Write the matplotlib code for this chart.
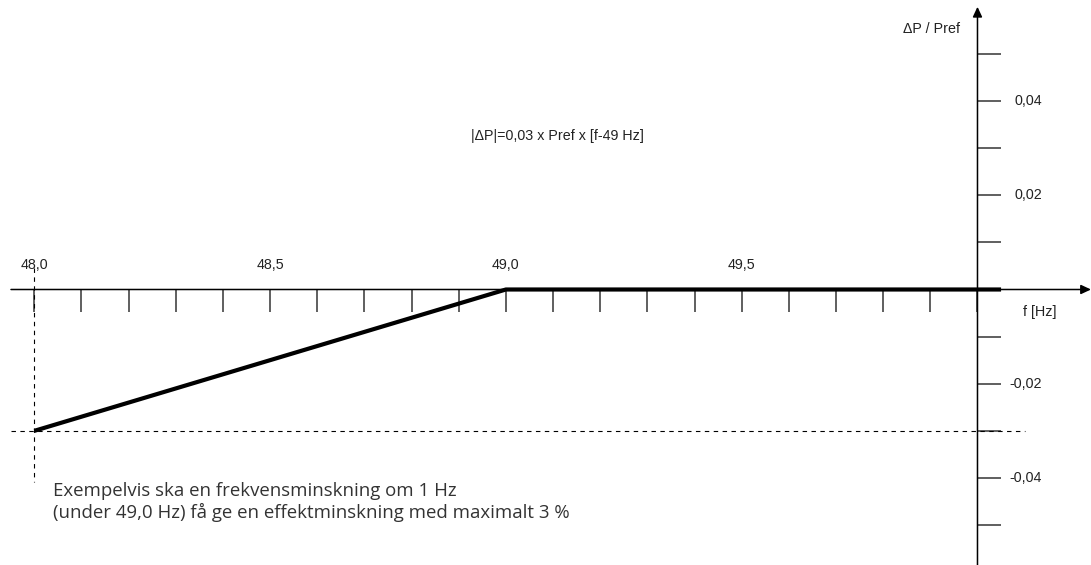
import numpy as np
import matplotlib.pyplot as plt

# frequency response curve: power change vs. grid frequency
freq = [48.0, 49.0, 50.05]
dp = [-0.03, 0.0, 0.0]

xtick_pos = [48.0, 48.1, 48.2, 48.3, 48.4, 48.5, 48.6, 48.7, 48.8, 48.9,
             49.0, 49.1, 49.2, 49.3, 49.4, 49.5, 49.6, 49.7, 49.8, 49.9, 50.0]
xlabel_pos = [48.0, 48.5, 49.0, 49.5]
xlabel_txt = ['48,0', '48,5', '49,0', '49,5']

ytick_pos = [0.05, 0.04, 0.03, 0.02, 0.01, -0.01, -0.02, -0.03, -0.04, -0.05]
ylabel_pos = [0.04, 0.02, -0.02, -0.04]
ylabel_txt = ['0,04', '0,02', '-0,02', '-0,04']

f_limit = 48.0
dp_limit = -0.03

fig = plt.figure(figsize=(10.91, 5.65), dpi=100)
ax = fig.add_axes([0, 0, 1, 1])
ax.set_xlim(47.9273, 50.2407)
ax.set_ylim(-0.05847, 0.06144)
ax.axis('off')

label_font = ['Liberation Sans', 'DejaVu Sans']
note_font = ['Open Sans', 'DejaVu Sans']
tick_col = '#444444'
fs = 10.3

# axes with arrow heads
arrow = dict(arrowstyle='-|>,head_length=0.6,head_width=0.28', lw=1.1,
             color='black', shrinkA=0, shrinkB=0)
ax.annotate('', xy=(50.2407, 0), xytext=(47.9506, 0), arrowprops=arrow)
ax.annotate('', xy=(50.0, 0.0600), xytext=(50.0, -0.0585), arrowprops=arrow)

# x ticks hang below the axis, y ticks stick out to the right
ax.vlines(xtick_pos, -0.0047, 0, color=tick_col, lw=1.2)
ax.hlines(ytick_pos, 50.0, 50.049, color=tick_col, lw=1.2)

for x, t in zip(xlabel_pos, xlabel_txt):
    ax.text(x, 0.0052, t, ha='center', va='center', fontsize=fs,
            family=label_font, color='#222222')
for y, t in zip(ylabel_pos, ylabel_txt):
    ax.text(50.1368, y, t, ha='right', va='center', fontsize=fs,
            family=label_font, color='#222222')

ax.text(49.963, 0.0553, '\u0394P / Pref', ha='right', va='center',
        fontsize=fs, family=label_font, color='#222222')
ax.text(50.0965, -0.0048, 'f [Hz]', ha='left', va='center',
        fontsize=fs, family=label_font, color='#222222')

# guide lines to the end point of the curve
ax.plot([47.9506, 50.1008], [dp_limit, dp_limit], color='black', lw=0.8,
        linestyle=(0, (4, 4)))
ax.plot([f_limit, f_limit], [0.0046, -0.0409], color='black', lw=0.8,
        linestyle=(0, (4, 4)))

# the curve itself
ax.plot(freq, dp, color='black', lw=3, solid_capstyle='butt', zorder=5)

ax.text(49.1084, 0.0326, '|\u0394P|=0,03 x Pref x [f-49 Hz]', ha='center',
        va='center', fontsize=fs, family=label_font, color='#222222')

ax.text(48.0397, -0.04276, 'Exempelvis ska en frekvensminskning om 1 Hz',
        ha='left', va='center', fontsize=13.4, family=note_font,
        color='#333333')
ax.text(48.0397, -0.04722, '(under 49,0 Hz) få ge en effektminskning med maximalt 3 %',
        ha='left', va='center', fontsize=13.4, family=note_font,
        color='#333333')

fig.savefig('out.png', dpi=100)
